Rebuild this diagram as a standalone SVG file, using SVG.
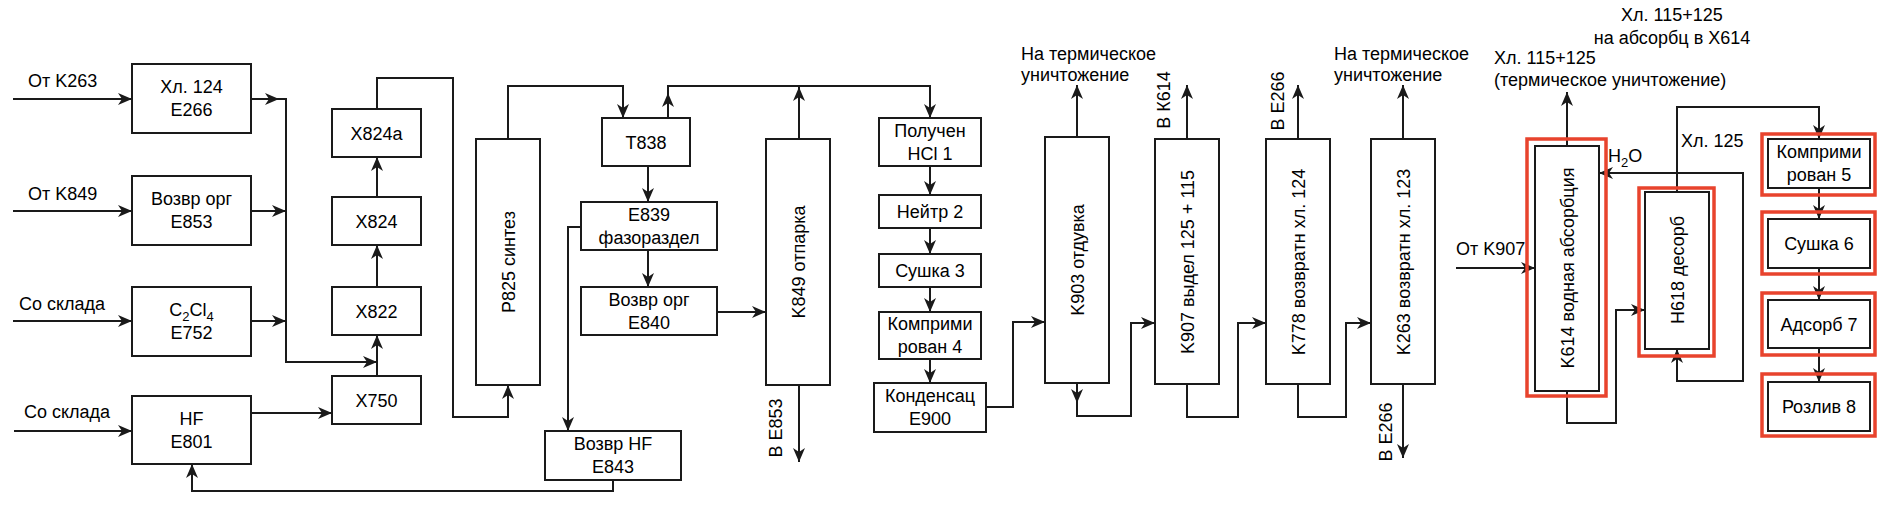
<svg xmlns="http://www.w3.org/2000/svg" width="1891" height="505" viewBox="0 0 1891 505">
<style>
.b{fill:#fff;stroke:#1a1a1a;stroke-width:2}
.r{fill:none;stroke:#e8432d;stroke-width:3.5}
.l{fill:none;stroke:#1a1a1a;stroke-width:2}
.t{font-family:"Liberation Sans",Arial,Helvetica,sans-serif;font-size:18px;fill:#000}
.c{text-anchor:middle}
</style>
<defs>
<marker id="a" markerUnits="userSpaceOnUse" markerWidth="15" markerHeight="12" refX="14" refY="6" orient="auto-start-reverse">
<path d="M0,0 L14,6 L0,12 L4,6 Z" fill="#1a1a1a"/>
</marker>
</defs>
<rect width="1891" height="505" fill="#fff"/>

<g id="connectors">
<path class="l" d="M13,99 L132,99" marker-end="url(#a)"/>
<path class="l" d="M13,211 L132,211" marker-end="url(#a)"/>
<path class="l" d="M13,321 L132,321" marker-end="url(#a)"/>
<path class="l" d="M14,431 L132,431" marker-end="url(#a)"/>
<path class="l" d="M251,99 L279,99" marker-end="url(#a)"/>
<path class="l" d="M279,99 L286,99 L286,362 L377,362" marker-end="url(#a)"/>
<path class="l" d="M251,211 L286,211" marker-end="url(#a)"/>
<path class="l" d="M251,321 L286,321" marker-end="url(#a)"/>
<path class="l" d="M251,413 L332,413" marker-end="url(#a)"/>
<path class="l" d="M377,376 L377,335" marker-end="url(#a)"/>
<path class="l" d="M377,287 L377,245" marker-end="url(#a)"/>
<path class="l" d="M377,197 L377,157" marker-end="url(#a)"/>
<path class="l" d="M377,109 L377,78 L453,78 L453,417 L508,417 L508,385" marker-end="url(#a)"/>
<path class="l" d="M508,139 L508,86 L623,86 L623,118" marker-end="url(#a)"/>
<path class="l" d="M668,118 L668,93" marker-end="url(#a)"/>
<path class="l" d="M668,93 L668,86 L930,86 L930,118" marker-end="url(#a)"/>
<path class="l" d="M799,139 L799,87" marker-end="url(#a)"/>
<path class="l" d="M648,166 L648,202" marker-end="url(#a)"/>
<path class="l" d="M648,250 L648,287" marker-end="url(#a)"/>
<path class="l" d="M581,227 L568,227 L568,431" marker-end="url(#a)"/>
<path class="l" d="M613,480 L613,491 L192,491 L192,464" marker-end="url(#a)"/>
<path class="l" d="M717,312 L766,312" marker-end="url(#a)"/>
<path class="l" d="M799,385 L799,462" marker-end="url(#a)"/>
<path class="l" d="M930,166 L930,195" marker-end="url(#a)"/>
<path class="l" d="M930,228 L930,254" marker-end="url(#a)"/>
<path class="l" d="M930,287 L930,312" marker-end="url(#a)"/>
<path class="l" d="M930,359 L930,383" marker-end="url(#a)"/>
<path class="l" d="M986,407 L1013,407 L1013,322 L1045,322" marker-end="url(#a)"/>
<path class="l" d="M1077,137 L1077,85" marker-end="url(#a)"/>
<path class="l" d="M1077,383 L1077,403" marker-end="url(#a)"/>
<path class="l" d="M1077,403 L1077,416 L1131,416 L1131,323 L1155,323" marker-end="url(#a)"/>
<path class="l" d="M1187,139 L1187,85" marker-end="url(#a)"/>
<path class="l" d="M1187,384 L1187,417 L1238,417 L1238,323 L1266,323" marker-end="url(#a)"/>
<path class="l" d="M1298,139 L1298,85" marker-end="url(#a)"/>
<path class="l" d="M1298,384 L1298,417 L1346,417 L1346,323 L1371,323" marker-end="url(#a)"/>
<path class="l" d="M1403,139 L1403,85" marker-end="url(#a)"/>
<path class="l" d="M1403,384 L1403,458" marker-end="url(#a)"/>
<path class="l" d="M1456,268 L1535,268" marker-end="url(#a)"/>
<path class="l" d="M1567,146 L1567,92" marker-end="url(#a)"/>
<path class="l" d="M1567,391 L1567,423 L1616,423 L1616,310 L1645,310" marker-end="url(#a)"/>
<path class="l" d="M1677,192 L1677,107 L1819,107 L1819,139" marker-end="url(#a)"/>
<path class="l" d="M1599,173 L1743,173 L1743,381 L1677,381 L1677,349" marker-start="url(#a)" marker-end="url(#a)"/>
<path class="l" d="M1819,188 L1819,219" marker-end="url(#a)"/>
<path class="l" d="M1819,268 L1819,300" marker-end="url(#a)"/>
<path class="l" d="M1819,348 L1819,382" marker-end="url(#a)"/>
</g>

<g id="labels" class="t">
<text x="28" y="87">От K263</text>
<text x="28" y="200">От K849</text>
<text x="19" y="310">Со склада</text>
<text x="24" y="418">Со склада</text>
<text x="1021" y="60">На термическое</text>
<text x="1021" y="81">уничтожение</text>
<text x="1334" y="60">На термическое</text>
<text x="1334" y="81">уничтожение</text>
<text x="1494" y="64">Хл. 115+125</text>
<text x="1494" y="86">(термическое уничтожение)</text>
<text class="c" x="1672" y="21">Хл. 115+125</text>
<text class="c" x="1672" y="44">на абсорбц в X614</text>
<text x="1681" y="147">Хл. 125</text>
<text x="1608" y="162">H<tspan font-size="13" dy="5">2</tspan><tspan dy="-5">O</tspan></text>
<text x="1456" y="255">От K907</text>
<text class="c" x="775" y="434.5" transform="rotate(-90 775 428)">В Е853</text>
<text class="c" x="1163" y="106.5" transform="rotate(-90 1163 100)">В К614</text>
<text class="c" x="1277" y="107.5" transform="rotate(-90 1277 101)">В Е266</text>
<text class="c" x="1385" y="438.5" transform="rotate(-90 1385 432)">В Е266</text>
</g>

<g id="n-e266" class="t c"><rect class="b" x="132" y="64" width="119" height="69"/><text x="191.5" y="93">Хл. 124</text><text x="191.5" y="116">E266</text></g>
<g id="n-e853" class="t c"><rect class="b" x="132" y="176" width="119" height="69"/><text x="191.5" y="205">Возвр орг</text><text x="191.5" y="228">E853</text></g>
<g id="n-e752" class="t c"><rect class="b" x="132" y="287" width="119" height="69"/><text x="191.5" y="316">C<tspan font-size="13" dy="5">2</tspan><tspan dy="-5">Cl</tspan><tspan font-size="13" dy="5">4</tspan></text><text x="191.5" y="339">E752</text></g>
<g id="n-e801" class="t c"><rect class="b" x="132" y="396" width="119" height="68"/><text x="191.5" y="424.5">HF</text><text x="191.5" y="447.5">E801</text></g>
<g id="n-x824a" class="t c"><rect class="b" x="332" y="109" width="89" height="48"/><text x="376.5" y="139.5">X824a</text></g>
<g id="n-x824" class="t c"><rect class="b" x="332" y="197" width="89" height="48"/><text x="376.5" y="227.5">X824</text></g>
<g id="n-x822" class="t c"><rect class="b" x="332" y="287" width="89" height="48"/><text x="376.5" y="317.5">X822</text></g>
<g id="n-x750" class="t c"><rect class="b" x="332" y="376" width="89" height="48"/><text x="376.5" y="406.5">X750</text></g>
<g id="n-p825" class="t c"><rect class="b" x="476" y="139" width="64" height="246"/><text x="508" y="268.5" transform="rotate(-90 508 262)">P825 синтез</text></g>
<g id="n-t838" class="t c"><rect class="b" x="602" y="118" width="88" height="48"/><text x="646" y="148.5">T838</text></g>
<g id="n-e839" class="t c"><rect class="b" x="581" y="202" width="136" height="48"/><text x="649" y="220.5">E839</text><text x="649" y="243.5">фазораздел</text></g>
<g id="n-e840" class="t c"><rect class="b" x="581" y="287" width="136" height="48"/><text x="649" y="305.5">Возвр орг</text><text x="649" y="328.5">E840</text></g>
<g id="n-e843" class="t c"><rect class="b" x="545" y="431" width="136" height="49"/><text x="613" y="450">Возвр HF</text><text x="613" y="473">E843</text></g>
<g id="n-k849" class="t c"><rect class="b" x="766" y="139" width="64" height="246"/><text x="798" y="268.5" transform="rotate(-90 798 262)">K849 отпарка</text></g>
<g id="n-hcl1" class="t c"><rect class="b" x="879" y="118" width="102" height="48"/><text x="930" y="136.5">Получен</text><text x="930" y="159.5">HCl 1</text></g>
<g id="n-neitr2" class="t c"><rect class="b" x="879" y="195" width="102" height="33"/><text x="930" y="218">Нейтр 2</text></g>
<g id="n-sushka3" class="t c"><rect class="b" x="879" y="254" width="102" height="33"/><text x="930" y="277">Сушка 3</text></g>
<g id="n-kompr4" class="t c"><rect class="b" x="879" y="312" width="102" height="47"/><text x="930" y="330">Комприми</text><text x="930" y="353">рован 4</text></g>
<g id="n-e900" class="t c"><rect class="b" x="874" y="383" width="112" height="49"/><text x="930" y="402">Конденсац</text><text x="930" y="425">E900</text></g>
<g id="n-k903" class="t c"><rect class="b" x="1045" y="137" width="64" height="246"/><text x="1077" y="266.5" transform="rotate(-90 1077 260)">K903 отдувка</text></g>
<g id="n-k907" class="t c"><rect class="b" x="1155" y="139" width="64" height="245"/><text x="1187" y="268.5" transform="rotate(-90 1187 262)">K907 выдел 125 + 115</text></g>
<g id="n-k778" class="t c"><rect class="b" x="1266" y="139" width="64" height="245"/><text x="1298" y="268.5" transform="rotate(-90 1298 262)">K778 возвратн хл. 124</text></g>
<g id="n-k263" class="t c"><rect class="b" x="1371" y="139" width="64" height="245"/><text x="1403" y="268.5" transform="rotate(-90 1403 262)">K263 возвратн хл. 123</text></g>
<g id="n-k614" class="t c"><rect class="b" x="1535" y="146" width="64" height="245"/><text x="1567" y="274.5" transform="rotate(-90 1567 268)">K614 водная абсорбция</text><rect class="r" x="1527" y="139" width="79" height="257"/></g>
<g id="n-h618" class="t c"><rect class="b" x="1645" y="192" width="64" height="157"/><text x="1677" y="276.5" transform="rotate(-90 1677 270)">H618 десорб</text><rect class="r" x="1639" y="188" width="75" height="168"/></g>
<g id="n-kompr5" class="t c"><rect class="b" x="1768" y="139" width="102" height="49"/><text x="1819" y="158">Комприми</text><text x="1819" y="181">рован 5</text><rect class="r" x="1762" y="134" width="113" height="61"/></g>
<g id="n-sushka6" class="t c"><rect class="b" x="1768" y="219" width="102" height="49"/><text x="1819" y="250">Сушка 6</text><rect class="r" x="1762" y="212" width="113" height="62"/></g>
<g id="n-adsorb7" class="t c"><rect class="b" x="1768" y="300" width="102" height="48"/><text x="1819" y="330.5">Адсорб 7</text><rect class="r" x="1762" y="293" width="113" height="62"/></g>
<g id="n-rozliv8" class="t c"><rect class="b" x="1768" y="382" width="102" height="49"/><text x="1819" y="413">Розлив 8</text><rect class="r" x="1762" y="374" width="113" height="62"/></g>
</svg>
